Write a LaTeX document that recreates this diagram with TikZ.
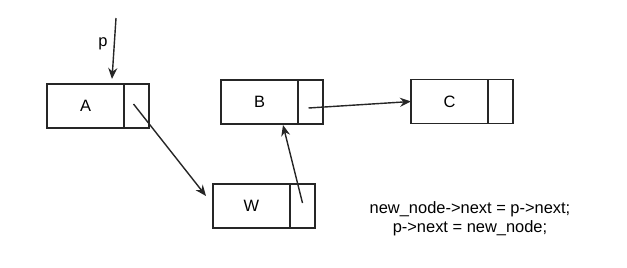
\documentclass[tikz,border=0pt]{standalone}
\usepackage{fontspec}
\setmainfont{Liberation Sans}
\usetikzlibrary{arrows.meta}
\begin{document}
\begin{tikzpicture}[x=1bp,y=-1bp,
  cell/.style={draw=black!85, line width=1.4bp, minimum height=44bp, inner sep=0pt, outer sep=0pt, font=\fontsize{16.5}{19}\selectfont},
  datacell/.style={cell, minimum width=77bp},
  ptrcell/.style={cell, minimum width=25bp, anchor=west},
  link/.style={line width=1.4bp, black!85, -{Stealth[length=11bp,width=9bp]}},
  lbl/.style={font=\fontsize{16.5}{19}\selectfont, inner sep=0pt}]
\useasboundingbox (0,0) rectangle (627,267);
% nodes
\node[datacell] (A) at (85.5,106) {A};
\node[ptrcell] (Ap) at (A.east) {};
\node[datacell] (B) at (259.5,102) {B};
\node[ptrcell] (Bp) at (B.east) {};
\node[datacell] (W) at (251.5,206) {W};
\node[ptrcell] (Wp) at (W.east) {};
\node[datacell] (C) at (449.5,101.5) {C};
\node[ptrcell] (Cp) at (C.east) {};
% pointer p
\coordinate (ptop) at (116,18);
\node[lbl] (plabel) at (103,44) {p};
\draw[link] (ptop) -- ([xshift=-12bp,yshift=5bp]A.north east);
% links
\draw[link] ([xshift=-3bp,yshift=2bp]Ap.center) -- ([xshift=-7bp,yshift=10bp]W.west);
\draw[link] ([yshift=3bp]Wp.center) -- ([xshift=-15bp,yshift=-1bp]B.south east);
\draw[link] ([xshift=-2bp,yshift=-6bp]Bp.center) -- (C.west);
% code
\node[lbl, align=center] (code) at (470,218.5) {new\_node->next = p->next;\\p->next = new\_node;};
\end{tikzpicture}
\end{document}
